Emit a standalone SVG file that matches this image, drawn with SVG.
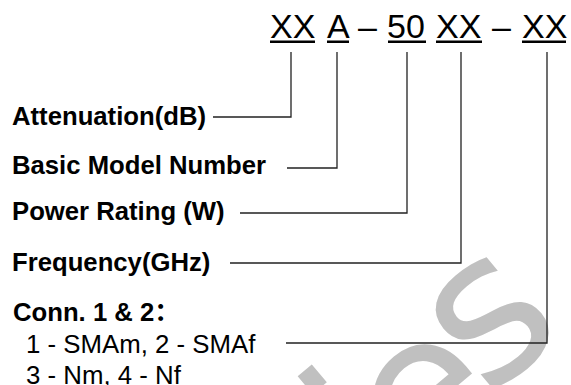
<svg xmlns="http://www.w3.org/2000/svg" width="571" height="385" viewBox="0 0 571 385">
<style>
.code{font-family:"Liberation Sans",Arial,sans-serif;font-size:34px;fill:#000}
.lbl{font-family:"Liberation Sans",Arial,sans-serif;font-size:25.7px;font-weight:bold;fill:#000}
.sub{font-family:"Liberation Sans",Arial,sans-serif;font-size:25.8px;fill:#000}
.ul{fill:#000}
.conn{fill:none;stroke:#222;stroke-width:1.3}
.wm{font-family:"DejaVu Sans",sans-serif;font-size:205px;fill:#c0c0c0}
</style>
<rect width="571" height="385" fill="#fff"/>
<g id="watermark">
<text class="wm" transform="translate(383,508) rotate(-40)">i</text>
<text class="wm" transform="translate(417,487) rotate(-40)">e</text>
<text class="wm" transform="translate(487,399) rotate(-40)">s</text>
</g>
<g id="code">
<text class="code" x="270" y="38">XX</text>
<rect class="ul" x="270" y="40.5" width="45" height="2.5"/>
<text class="code" x="327" y="38">A</text>
<rect class="ul" x="327" y="40.5" width="22" height="2.5"/>
<text class="code" x="358" y="38">–</text>
<text class="code" x="387" y="38">50</text>
<rect class="ul" x="388" y="40.5" width="38" height="2.5"/>
<text class="code" x="436" y="38">XX</text>
<rect class="ul" x="436" y="40.5" width="46" height="2.5"/>
<text class="code" x="492" y="38">–</text>
<text class="code" x="522" y="38">XX</text>
<rect class="ul" x="522" y="40.5" width="44" height="2.5"/>
</g>
<g id="connectors">
<path class="conn" d="M213,117 H291 V52"/>
<path class="conn" d="M287,168 H337 V52"/>
<path class="conn" d="M240,213 H407 V52"/>
<path class="conn" d="M230,263 H461 V52"/>
<path class="conn" d="M286,343 H547 V52"/>
</g>
<g id="attenuation"><text class="lbl" x="12" y="125">Attenuation(dB)</text></g>
<g id="basic-model"><text class="lbl" x="12" y="174">Basic Model Number</text></g>
<g id="power-rating"><text class="lbl" x="12" y="220">Power Rating (W)</text></g>
<g id="frequency"><text class="lbl" x="12" y="271">Frequency(GHz)</text></g>
<g id="connectors-legend">
<text class="lbl" x="13" y="321">Conn. 1 &amp; 2<tspan font-family="'Noto Sans CJK SC',sans-serif">：</tspan></text>
<text class="sub" x="26" y="353">1 - SMAm, 2 - SMAf</text>
<text class="sub" x="26" y="384">3 - Nm, 4 - Nf</text>
</g>
</svg>
